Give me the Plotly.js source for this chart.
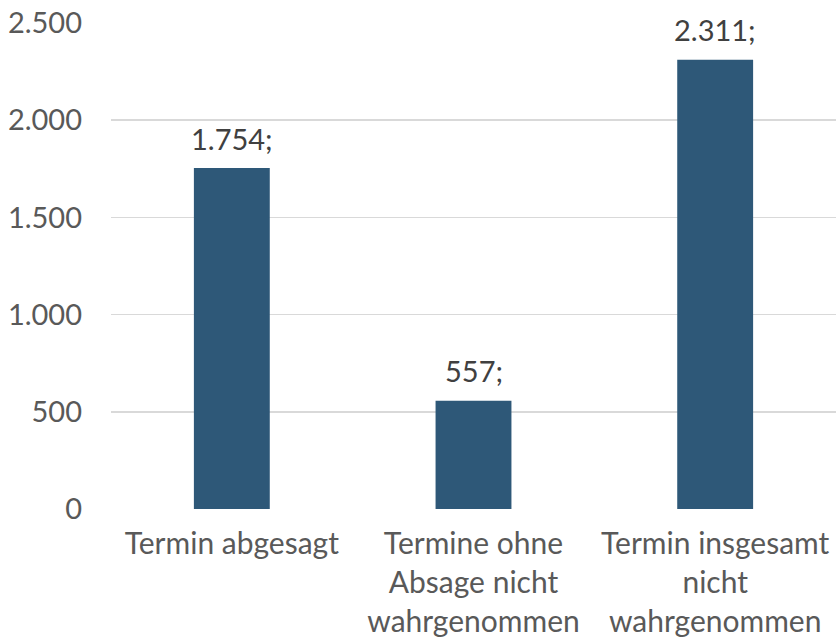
<!DOCTYPE html>
<html><head><meta charset="utf-8">
<script src="https://cdn.plot.ly/plotly-3.0.1.min.js"></script>
<style>html,body{margin:0;padding:0;background:#fff}</style>
</head><body>
<div id="chart" style="width:836px;height:641px"></div>
<script>
const categories = ["Termin abgesagt", "Termine ohne<br>Absage nicht<br>wahrgenommen", "Termin insgesamt<br>nicht<br>wahrgenommen"];
const values = [1754, 557, 2311];
const labelTexts = ["1.754;", "557;", "2.311;"];
const tickValues = [0, 500, 1000, 1500, 2000, 2500];
const tickLabels = ["0", "500", "1.000", "1.500", "2.000", "2.500"];

const FONT = "Lato, 'Open Sans', sans-serif";
const trace = {
  type: 'bar', x: categories, y: values,
  marker: {color: '#2E5878'}, hoverinfo: 'none'
};
const annotations = categories.map((c, i) => ({
  x: c, y: values[i], text: labelTexts[i], showarrow: false,
  xanchor: 'center', yanchor: 'middle', yshift: 30,
  font: {family: FONT, size: 29, color: '#404040'}
}));
const layout = {
  width: 836, height: 641,
  margin: {l: 111, r: 0, t: 23, b: 132},
  paper_bgcolor: '#fff', plot_bgcolor: '#fff',
  bargap: 0.686, showlegend: false,
  font: {family: FONT, size: 29, color: '#595959'},
  xaxis: {type: 'category', showgrid: false, zeroline: false, showline: false,
          ticks: '', ticklabelstandoff: 14, tickfont: {family: FONT, size: 30, color: '#595959'}},
  yaxis: {range: [0, 2500], tickvals: tickValues, ticktext: tickLabels,
          showgrid: true, gridcolor: '#D9D9D9', gridwidth: 1.5, zeroline: false, showline: false,
          ticks: '', ticklabelstandoff: 28, tickfont: {family: FONT, size: 29, color: '#595959'}},
  annotations: annotations
};
Plotly.newPlot('chart', [trace], layout, {displayModeBar: false, staticPlot: true});
</script>
</body></html>
